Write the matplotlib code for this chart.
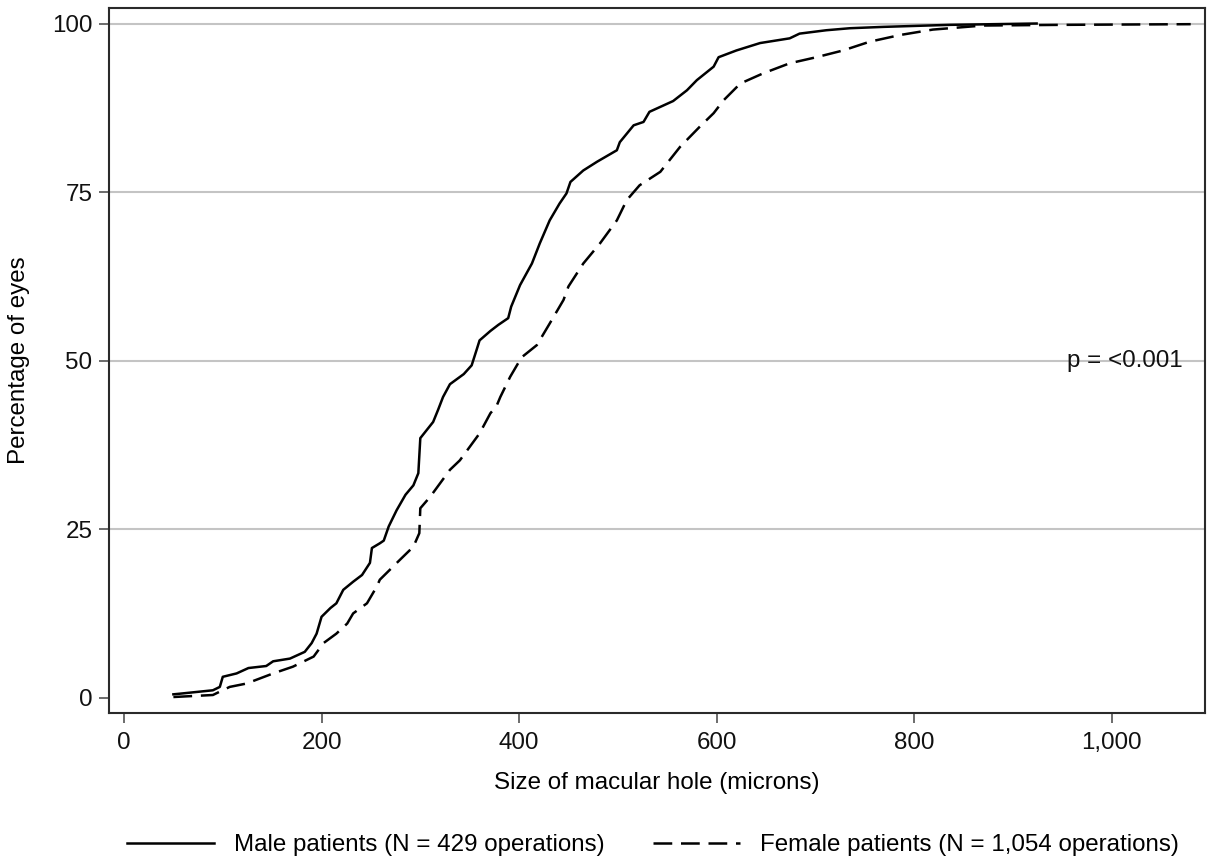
import matplotlib
matplotlib.use("Agg")
import matplotlib.pyplot as plt

# Cumulative distribution of macular hole size
male_x = [50, 57, 90, 97, 100, 114, 126, 144, 151, 168, 183, 190, 195, 200, 209,
          215, 222, 232, 241, 249, 251, 259, 263, 268, 276, 285, 293, 298, 300, 313,
          318, 323, 330, 344, 352, 357, 360, 371, 379, 389, 392, 401, 413, 421, 431,
          441, 448, 452, 465, 479, 499, 502, 516, 526, 532, 556, 570, 580, 597, 602,
          620, 644, 674, 684, 711, 735, 769, 836, 924]
male_y = [0.5, 0.6, 1.1, 1.6, 3.1, 3.6, 4.4, 4.7, 5.4, 5.8, 6.8, 8.1, 9.5, 12.0, 13.3,
          14.0, 16.0, 17.2, 18.2, 20.0, 22.2, 22.9, 23.3, 25.4, 27.8, 30.1, 31.5, 33.3, 38.5, 40.9,
          42.7, 44.6, 46.5, 48.0, 49.3, 51.6, 53.0, 54.4, 55.3, 56.3, 58.0, 61.2, 64.4, 67.4, 70.8,
          73.3, 74.8, 76.5, 78.2, 79.5, 81.2, 82.4, 84.9, 85.4, 86.9, 88.5, 90.1, 91.6, 93.6, 95.0,
          96.0, 97.1, 97.8, 98.5, 99.0, 99.3, 99.5, 99.8, 100.0]

female_x = [50, 90, 97, 107, 124, 151, 171, 192, 202, 215, 226, 232, 246, 256, 259,
            279, 293, 299, 300, 310, 320, 330, 340, 350, 360, 371, 377, 381, 391, 399,
            401, 418, 431, 445, 450, 465, 482, 499, 509, 522, 543, 563, 583, 597, 607,
            624, 647, 674, 701, 728, 755, 786, 819, 870, 950, 1080]
female_y = [0.1, 0.4, 0.9, 1.6, 2.1, 3.6, 4.6, 6.1, 8.1, 9.5, 11.0, 12.5, 14.0, 16.5, 17.5,
            20.4, 22.4, 24.4, 28.1, 29.8, 31.8, 33.8, 35.2, 37.2, 39.2, 42.2, 43.2, 44.6, 47.6, 49.6,
            50.3, 52.3, 55.5, 59.0, 61.0, 64.4, 67.4, 70.8, 73.8, 76.0, 78.0, 81.7, 84.7, 86.7, 88.6,
            91.1, 92.6, 94.1, 95.0, 96.0, 97.3, 98.3, 99.1, 99.7, 99.8, 99.9]

x_ticks = [0, 200, 400, 600, 800, 1000]
x_ticklabels = ["0", "200", "400", "600", "800", "1,000"]
y_ticks = [0, 25, 50, 75, 100]

FS = 17.4
plt.rcParams["font.family"] = ["Liberation Sans", "DejaVu Sans"]
plt.rcParams["font.size"] = FS

fig = plt.figure(figsize=(12.07, 8.66), dpi=100)
ax = fig.add_axes([109 / 1207, 1 - 713 / 866, (1205 - 109) / 1207, (713 - 8) / 866])

ax.plot(male_x, male_y, color="black", lw=1.8, linestyle="-",
        label="Male patients (N = 429 operations)")
ax.plot(female_x, female_y, color="black", lw=1.8, linestyle=(0, (7.5, 3.5)),
        label="Female patients (N = 1,054 operations)")

ax.set_xlim(-15.2, 1094.5)
ax.set_ylim(-2.27, 102.3)
ax.set_xticks(x_ticks)
ax.set_xticklabels(x_ticklabels)
ax.set_yticks(y_ticks)

# light grey gridlines, none at 0
ax.grid(axis="y", color="#c4c4c4", lw=1.5)
ax.yaxis.get_gridlines()[0].set_visible(False)
ax.set_axisbelow(True)

for s in ax.spines.values():
    s.set_color("#2a2a2a")
    s.set_linewidth(1.5)
ax.tick_params(axis="both", direction="out", length=7, width=1.1, color="#444444",
               labelcolor="#111111", labelsize=FS)
ax.tick_params(axis="x", pad=7)
ax.tick_params(axis="y", pad=5)

ax.set_xlabel("Size of macular hole (microns)", fontsize=FS)
ax.xaxis.label.set_va("center")
ax.xaxis.set_label_coords(0.5, (713 - 783) / 705)
ax.set_ylabel("Percentage of eyes", fontsize=FS)
ax.yaxis.label.set_va("center")
ax.yaxis.set_label_coords((19 - 109) / 1096, 0.5)

ax.text(955, 50, "p = <0.001", fontsize=FS, va="center", ha="left", color="#111111")

fig.legend(loc="center", bbox_to_anchor=(653 / 1207, 1 - 845 / 866), ncol=2,
           frameon=False, fontsize=FS, handlelength=3.6, handletextpad=0.83,
           columnspacing=2.0)

fig.savefig("out.png", dpi=100, facecolor="white")
